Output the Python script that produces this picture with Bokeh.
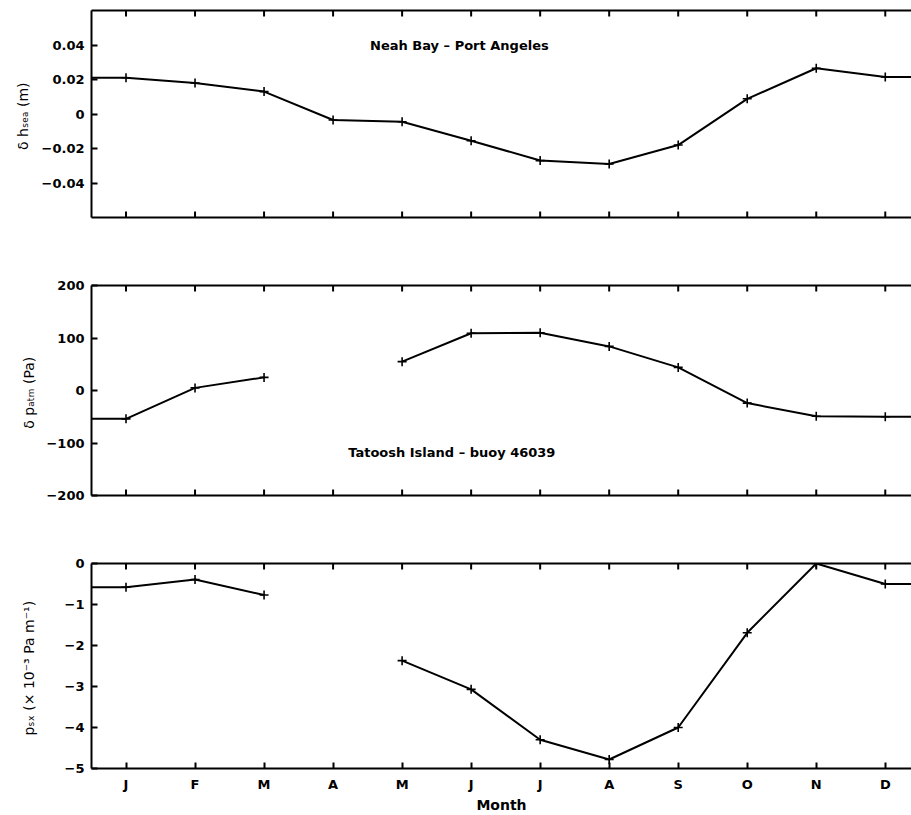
from bokeh.embed import file_html
from bokeh.layouts import column
from bokeh.models import FixedTicker, Label, LinearAxis, Range1d
from bokeh.plotting import figure
from bokeh.resources import INLINE

NaN = float("nan")

# Monthly means (J..D)
months = list(range(1, 13))
month_letters = ["J", "F", "M", "A", "M", "J", "J", "A", "S", "O", "N", "D"]

# Neah Bay - Port Angeles sea level difference (m)
sea_level_diff = [0.021, 0.018, 0.013, -0.0035, -0.0045, -0.0155,
                  -0.027, -0.029, -0.018, 0.0088, 0.0265, 0.0215]

# Tatoosh Island - buoy 46039 atmospheric pressure difference (Pa)
pressure_diff = [-54, 5, 25, NaN, 55, 109, 110, 84, 44, -24, -49, -50]

# Along-strait pressure gradient (x 10^-3 Pa/m)
pressure_gradient = [-0.58, -0.39, -0.77, NaN, -2.37, -3.07,
                     -4.3, -4.78, -4.0, -1.69, 0.0, -0.5]

sea_ticks = [-0.04, -0.02, 0.0, 0.02, 0.04]
sea_tick_labels = ["\u22120.04", "\u22120.02", "0", "0.02", "0.04"]
atm_ticks = [-200, -100, 0, 100, 200]
atm_tick_labels = ["\u2212200", "\u2212100", "0", "100", "200"]
grad_ticks = [-5, -4, -3, -2, -1, 0]
grad_tick_labels = ["\u22125", "\u22124", "\u22123", "\u22122", "\u22121", "0"]

FONT = "DejaVu Sans"


def style_axis(ax):
    ax.axis_line_width = 2
    ax.axis_line_color = "black"
    ax.major_tick_in = 6
    ax.major_tick_out = 0
    ax.major_tick_line_width = 2
    ax.major_tick_line_color = "black"
    ax.minor_tick_line_color = None
    ax.major_label_text_font = FONT
    ax.major_label_text_font_style = "bold"
    ax.major_label_text_font_size = "13px"
    ax.major_label_text_color = "black"
    ax.major_label_standoff = 7


def border_axis():
    # plain frame edge: a line only, no ticks and no labels
    ax = LinearAxis(ticker=FixedTicker(ticks=[]))
    style_axis(ax)
    ax.major_label_standoff = 0
    return ax


def month_axis():
    ax = LinearAxis(ticker=FixedTicker(ticks=months))
    style_axis(ax)
    ax.major_label_overrides = dict(zip(months, month_letters))
    ax.major_label_standoff = 8
    ax.axis_label = "Month"
    ax.axis_label_text_font = FONT
    ax.axis_label_text_font_style = "bold"
    ax.axis_label_text_font_size = "14px"
    ax.axis_label_text_color = "black"
    ax.axis_label_standoff = 2
    return ax


def make_panel(height, border_top, border_bottom, y_lo, y_hi, ticks, tick_labels,
               ylabel, ylabel_standoff, values, show_months):
    p = figure(width=911, height=height,
               x_range=Range1d(0.5, 12.38), y_range=Range1d(y_lo, y_hi),
               output_backend="svg", toolbar_location=None,
               x_axis_location=None, y_axis_location=None,
               min_border_left=91, min_border_right=0,
               min_border_top=border_top, min_border_bottom=border_bottom)
    p.outline_line_color = None
    p.grid.visible = False
    p.background_fill_color = "white"
    p.border_fill_color = "white"

    left = LinearAxis(ticker=FixedTicker(ticks=ticks))
    style_axis(left)
    left.major_label_overrides = dict(zip(ticks, tick_labels))
    left.axis_label = ylabel
    left.axis_label_text_font = FONT
    left.axis_label_text_font_style = "normal"
    left.axis_label_text_font_size = "14px"
    left.axis_label_text_color = "black"
    left.axis_label_standoff = ylabel_standoff
    p.add_layout(left, "left")

    p.add_layout(border_axis(), "above")
    if show_months:
        p.add_layout(month_axis(), "below")
    else:
        p.add_layout(border_axis(), "below")

    # inward month ticks on the top (and unlabeled bottom) edge; the half
    # outside the frame is clipped away
    edges = [y_hi] if show_months else [y_hi, y_lo]
    for edge in edges:
        p.rect(x=months, y=[edge] * len(months), width=2, width_units="screen",
               height=12, height_units="screen", fill_color="black",
               line_color=None)

    # the annual cycle is carried flat to the half-month edges
    xs = [0.5] + months + [12.5]
    ys = [values[0]] + values + [values[-1]]
    p.line(xs, ys, line_width=2, line_color="black")
    p.scatter(months, values, marker="cross", size=9, line_width=1.6,
              line_color="black")
    return p


p1 = make_panel(251, 10, 34, -0.06, 0.06, sea_ticks, sea_tick_labels,
                "\u03b4 h\u209b\u2091\u2090  (m)", 8, sea_level_diff, False)
p1.add_layout(Label(x=5.83, y=0.04, text="Neah Bay \u2013 Port Angeles",
                    text_font=FONT, text_font_style="bold", text_font_size="13px",
                    text_align="center", text_baseline="middle", text_color="black"))

p2 = make_panel(278, 34, 34, -200, 200, atm_ticks, atm_tick_labels,
                "\u03b4 p\u2090\u209c\u2098  (Pa)", 6, pressure_diff, False)
p2.add_layout(Label(x=5.72, y=-119, text="Tatoosh Island \u2013 buoy 46039",
                    text_font=FONT, text_font_style="bold", text_font_size="13px",
                    text_align="center", text_baseline="middle", text_color="black"))

p3 = make_panel(286, 34, 44, -5, 0, grad_ticks, grad_tick_labels,
                "p\u209b\u2093  (\u00d7 10\u207b\u00b3 Pa m\u207b\u00b9)", 25,
                pressure_gradient, True)

layout = column(p1, p2, p3, spacing=0)

open("out.html", "w").write(file_html(layout, INLINE))
